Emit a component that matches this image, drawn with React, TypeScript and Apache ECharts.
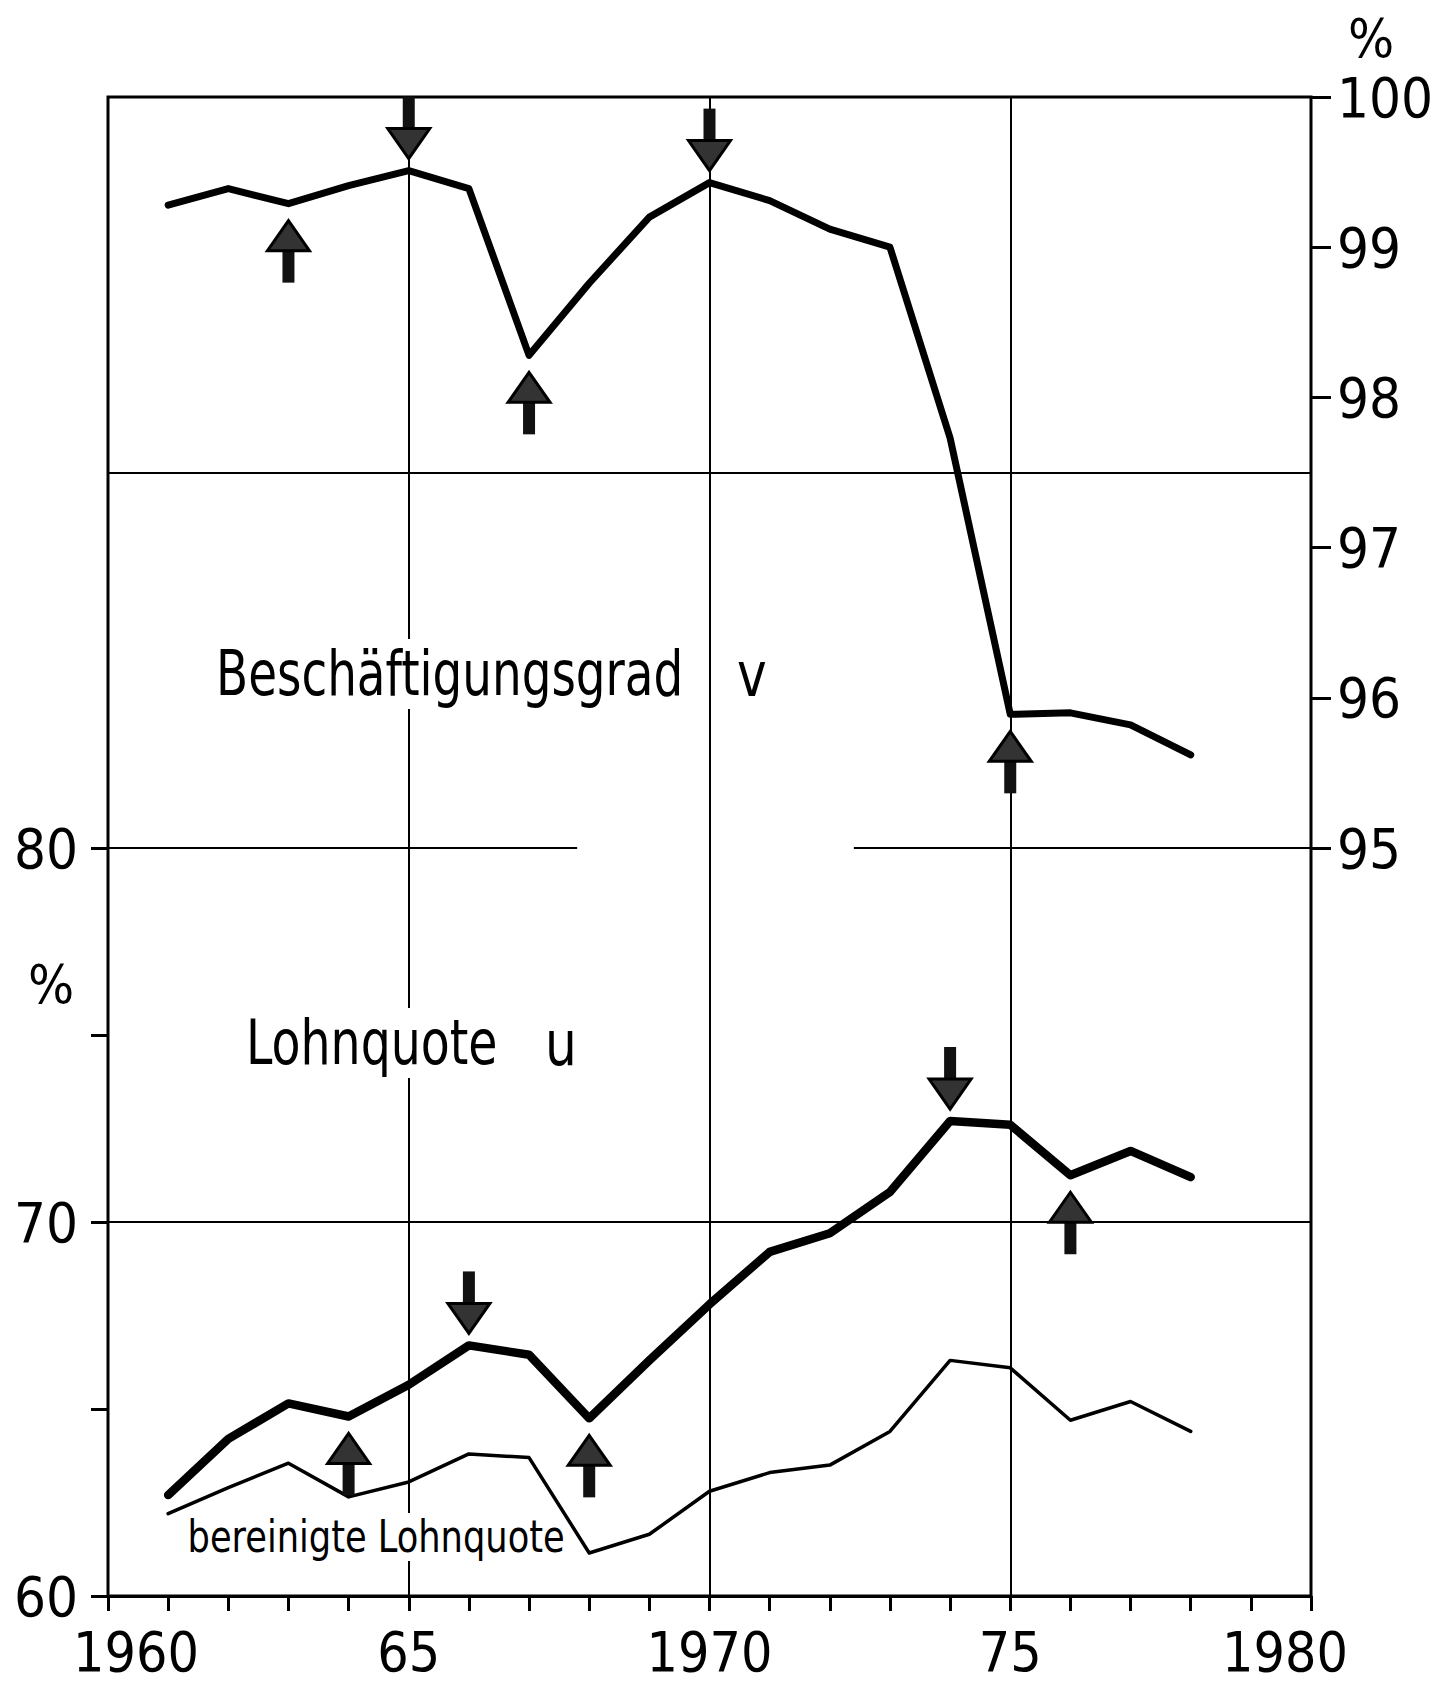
import React, { useEffect, useRef } from 'react';
import * as echarts from 'echarts';

// ---------- data ----------
const YEARS = [1961, 1962, 1963, 1964, 1965, 1966, 1967, 1968, 1969, 1970, 1971, 1972, 1973, 1974, 1975, 1976, 1977, 1978];
// Beschäftigungsgrad v (right axis, %)
const V_VALUES = [99.28, 99.39, 99.29, 99.41, 99.51, 99.39, 98.28, 98.76, 99.2, 99.43, 99.31, 99.12, 99.0, 97.73, 95.89, 95.9, 95.82, 95.62];
// Lohnquote u (left axis, %)
const U_VALUES = [62.7, 64.2, 65.15, 64.8, 65.65, 66.7, 66.45, 64.75, 66.3, 67.8, 69.2, 69.7, 70.8, 72.7, 72.6, 71.25, 71.9, 71.2];
// bereinigte Lohnquote (left axis, %)
const U_ADJ_VALUES = [62.2, 62.9, 63.55, 62.65, 63.05, 63.8, 63.7, 61.15, 61.65, 62.8, 63.3, 63.5, 64.4, 66.3, 66.1, 64.7, 65.2, 64.4];

// turning points marked by arrows
const V_PEAKS = [1965, 1970];
const V_TROUGHS = [1963, 1967, 1975];
const U_PEAKS = [1966, 1974];
const U_TROUGHS = [1964, 1968, 1976];

// tick labels
const X_LABEL_YEARS = [1960, 1965, 1970, 1975, 1980];
const X_LABEL_TEXTS = ['1960', '65', '1970', '75', '1980'];
const LEFT_LABELS = [60, 70, 80];
const RIGHT_LABELS = [95, 96, 97, 98, 99, 100];

// reference lines
const V_REF_LINE = 97.5;
const U_REF_LINE = 70;
const U_TOP_LINE = 80;
const U_TOP_SEGMENTS = [[1960, 1967.8], [1972.4, 1980]];

const FONT = "'DejaVu Sans Condensed', 'DejaVu Sans', sans-serif";

const zip = (vals: number[]) => YEARS.map((y, i) => [y, vals[i]]);
const arrowData = (years: number[], vals: number[], dir: number) =>
  years.map((y) => [y, vals[YEARS.indexOf(y)], dir]);

const renderArrow = (_params: any, api: any) => {
  const p = api.coord([api.value(0), api.value(1)]);
  const x = p[0];
  const y = p[1];
  const dir = api.value(2); // 1: arrow pointing up, placed below; -1: pointing down, placed above
  const gap = dir > 0 ? 17 : 12;
  const tipY = y + dir * gap;
  const L = 62;
  const HH = 30;
  const HW = 21;
  const SW = 6;
  const head = [
    [x, tipY],
    [x + HW, tipY + dir * HH],
    [x - HW, tipY + dir * HH],
  ];
  const stemY = dir > 0 ? tipY + HH - 2 : tipY - L;
  return {
    type: 'group',
    children: [
      {
        type: 'rect',
        shape: { x: x - SW, y: stemY, width: 2 * SW, height: L - HH + 2 },
        style: { fill: '#111' },
      },
      {
        type: 'polygon',
        shape: { points: head },
        style: { fill: '#333', stroke: '#000', lineWidth: 3 },
      },
    ],
  };
};

const lineBase = {
  type: 'line',
  symbol: 'none',
  smooth: false,
  emphasis: { disabled: true },
  silent: true,
};

const refLineStyle = { color: '#000', width: 2, type: 'solid' };

export default function App() {
  const ref = useRef<HTMLDivElement>(null);

  useEffect(() => {
    document.body.style.margin = '0';
    if (!ref.current) return;
    const chart = echarts.init(ref.current, undefined, { renderer: 'svg' });

    const gridLeft = 108;
    const gridRight = 133;
    const gridTop = 97;
    const gridBottom = 95;
    const midY = 848;
    const H = 1691;

    const labelStyle = { color: '#000', fontSize: 56, fontFamily: FONT };
    const xFont = { color: '#000', fontSize: 55, fontFamily: FONT };

    const option: any = {
      animation: false,
      backgroundColor: '#fff',
      grid: [
        {
          left: gridLeft, right: gridRight, top: gridTop, bottom: gridBottom,
          show: true, borderColor: '#000', borderWidth: 3, backgroundColor: 'transparent',
        },
        { left: gridLeft, right: gridRight, top: gridTop, bottom: H - midY },
        { left: gridLeft, right: gridRight, top: midY, bottom: gridBottom },
      ],
      xAxis: [
        {
          gridIndex: 0, type: 'value', position: 'bottom', min: 1960, max: 1980, interval: 1,
          axisLine: { show: true, lineStyle: { color: '#000', width: 3 } },
          axisTick: { show: true, inside: false, length: 15, lineStyle: { color: '#000', width: 3 } },
          axisLabel: {
            show: true, ...xFont, margin: 28,
            showMinLabel: true, showMaxLabel: true, hideOverlap: false,
            formatter: (v: number) => {
              const r = Math.round(v);
              const i = X_LABEL_YEARS.indexOf(r);
              if (i < 0) return '';
              if (i === 0) return `{first|${X_LABEL_TEXTS[i]}}`;
              if (i === X_LABEL_YEARS.length - 1) return `{last|${X_LABEL_TEXTS[i]}}`;
              return X_LABEL_TEXTS[i];
            },
            rich: {
              first: { ...xFont, padding: [0, 0, 0, 56] },
              last: { ...xFont, padding: [0, 52, 0, 0] },
            },
          },
          splitLine: { show: false },
        },
        {
          gridIndex: 0, type: 'value', position: 'top', min: 1960, max: 1980, interval: 5,
          axisLine: { show: false }, axisTick: { show: false }, axisLabel: { show: false },
          splitLine: { show: true, lineStyle: { color: '#000', width: 2 } },
        },
        { gridIndex: 1, type: 'value', min: 1960, max: 1980, show: false },
        { gridIndex: 2, type: 'value', min: 1960, max: 1980, show: false },
      ],
      yAxis: [
        { gridIndex: 0, type: 'value', min: 0, max: 1, show: false },
        {
          gridIndex: 1, type: 'value', position: 'right', min: 95, max: 100, interval: 1,
          axisLine: { show: false },
          axisTick: { show: true, inside: false, length: 20, lineStyle: { color: '#000', width: 3 } },
          axisLabel: {
            ...labelStyle, margin: 26,
            showMinLabel: true, showMaxLabel: true,
            formatter: (v: number) => (RIGHT_LABELS.includes(Math.round(v)) ? String(Math.round(v)) : ''),
          },
          splitLine: { show: false },
        },
        {
          gridIndex: 2, type: 'value', position: 'left', min: 60, max: 80, interval: 5,
          axisLine: { show: false },
          axisTick: { show: true, inside: false, length: 17, lineStyle: { color: '#000', width: 3 } },
          axisLabel: {
            ...labelStyle, margin: 30,
            showMinLabel: true, showMaxLabel: true,
            formatter: (v: number) => (LEFT_LABELS.includes(Math.round(v)) ? String(Math.round(v)) : ''),
          },
          splitLine: { show: false },
        },
      ],
      series: [
        {
          ...lineBase,
          name: 'Beschäftigungsgrad v',
          xAxisIndex: 2, yAxisIndex: 1,
          data: zip(V_VALUES),
          lineStyle: { color: '#000', width: 7, cap: 'round', join: 'round' },
          markLine: {
            silent: true, symbol: ['none', 'none'], label: { show: false },
            lineStyle: refLineStyle, emphasis: { disabled: true },
            data: [{ yAxis: V_REF_LINE }],
          },
          z: 3,
        },
        {
          ...lineBase,
          name: 'Lohnquote u',
          xAxisIndex: 3, yAxisIndex: 2,
          data: zip(U_VALUES),
          lineStyle: { color: '#000', width: 8.5, cap: 'round', join: 'round' },
          markLine: {
            silent: true, symbol: ['none', 'none'], label: { show: false },
            lineStyle: refLineStyle, emphasis: { disabled: true },
            data: [
              { yAxis: U_REF_LINE },
              ...U_TOP_SEGMENTS.map((s) => [{ coord: [s[0], U_TOP_LINE] }, { coord: [s[1], U_TOP_LINE] }]),
            ],
          },
          z: 3,
        },
        {
          ...lineBase,
          name: 'bereinigte Lohnquote',
          xAxisIndex: 3, yAxisIndex: 2,
          data: zip(U_ADJ_VALUES),
          lineStyle: { color: '#000', width: 3.5, cap: 'round', join: 'round' },
          z: 3,
        },
        {
          type: 'custom', name: 'v arrows', xAxisIndex: 2, yAxisIndex: 1, silent: true,
          renderItem: renderArrow, clip: false, z: 4,
          encode: { x: 0, y: 1 },
          data: [...arrowData(V_PEAKS, V_VALUES, -1), ...arrowData(V_TROUGHS, V_VALUES, 1)],
        },
        {
          type: 'custom', name: 'u arrows', xAxisIndex: 3, yAxisIndex: 2, silent: true,
          renderItem: renderArrow, clip: false, z: 4,
          encode: { x: 0, y: 1 },
          data: [...arrowData(U_PEAKS, U_VALUES, -1), ...arrowData(U_TROUGHS, U_VALUES, 1)],
        },
      ],
      graphic: [
        {
          type: 'text', z: 1, x: 211, y: 674, scaleX: 0.84,
          style: { text: 'Beschäftigungsgrad', x: 0, y: 0, font: `62px ${FONT}`, fill: '#000', verticalAlign: 'middle', backgroundColor: '#fff', padding: [4, 6] },
        },
        {
          type: 'text', z: 1, x: 737, y: 674, scaleX: 0.9,
          style: { text: 'v', x: 0, y: 0, font: `62px ${FONT}`, fill: '#000', verticalAlign: 'middle' },
        },
        {
          type: 'text', z: 1, x: 241, y: 1043, scaleX: 0.85,
          style: { text: 'Lohnquote', x: 0, y: 0, font: `62px ${FONT}`, fill: '#000', verticalAlign: 'middle', backgroundColor: '#fff', padding: [4, 6] },
        },
        {
          type: 'text', z: 1, x: 545, y: 1043, scaleX: 0.9,
          style: { text: 'u', x: 0, y: 0, font: `62px ${FONT}`, fill: '#000', verticalAlign: 'middle' },
        },
        {
          type: 'text', z: 1, x: 184, y: 1537, scaleX: 0.89,
          style: { text: 'bereinigte Lohnquote', x: 0, y: 0, font: `44px ${FONT}`, fill: '#000', verticalAlign: 'middle', backgroundColor: '#fff', padding: [2, 4] },
        },
        {
          type: 'text', z: 1, x: 1371, y: 38,
          style: { text: '%', x: 0, y: 0, font: `54px ${FONT}`, fill: '#000', align: 'center', verticalAlign: 'middle' },
        },
        {
          type: 'text', z: 1, x: 51, y: 984,
          style: { text: '%', x: 0, y: 0, font: `54px ${FONT}`, fill: '#000', align: 'center', verticalAlign: 'middle' },
        },
      ],
    };

    chart.setOption(option);
    return () => {
      chart.dispose();
    };
  }, []);

  return <div ref={ref} style={{ width: 1444, height: 1691 }} />;
}
